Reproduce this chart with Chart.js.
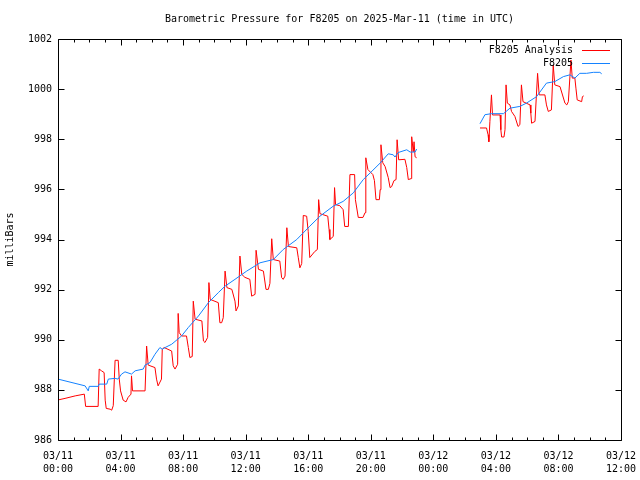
<!DOCTYPE html>
<html>
<head>
<meta charset="utf-8">
<script src="https://cdn.jsdelivr.net/npm/chart.js@4"></script>
<style>
  body { margin: 0; background: #fff; }
</style>
</head>
<body>
<canvas id="chart" width="640" height="480"></canvas>
<script>
// time is in minutes after 03/11 00:00 UTC, pressure in millibars
// a null value marks the gap in the record
const analysisMinutes = [
  1, 27, 66, 101, 106, 154, 158, 167, 177, 181, 185, 200, 206, 212, 219, 231, 235, 240, 250, 261,
  269, 280, 282, 286, 334, 340, 346, 372, 378, 384, 397, 400, 407, 436, 442, 449, 459, 461, 465, 474,
  493, 500, 506, 515, 519, 526, 552, 558, 564, 574, 579, 584, 615, 621, 628, 634, 641, 648, 667, 679,
  683, 692, 698, 705, 717, 736, 743, 756, 760, 769, 788, 798, 807, 813, 820, 826, 851, 858, 864, 871,
  878, 884, 916, 922, 928, 935, 941, 954, 960, 966, 985, 995, 1000, 1005, 1035, 1040, 1043, 1056, 1061, 1065,
  1081, 1094, 1100, 1114, 1120, 1138, 1141, 1152, 1170, 1178, 1181, 1189, 1208, 1214, 1220, 1233, 1236, 1239, 1246, 1255,
  1267, 1274, 1280, 1289, 1297, 1301, 1307, 1331, 1338, 1344, 1355, 1357, 1363, 1366, 1370, 1376,
  1500,
  1619, 1644, 1650, 1653, 1657, 1663, 1667, 1696, 1699, 1702, 1711, 1715, 1719, 1724, 1734, 1740, 1753, 1765, 1772, 1778,
  1784, 1811, 1814, 1817, 1830, 1840, 1846, 1868, 1874, 1881, 1893, 1900, 1906, 1926, 1945, 1952, 1958, 1968, 1973, 1983,
  1987, 1992, 2009, 2012, 2017
];
const analysisValues = [
  987.60, 987.66, 987.76, 987.83, 987.34, 987.34, 988.83, 988.76, 988.69, 987.59, 987.26, 987.23, 987.19, 987.37, 989.18, 989.18, 988.43, 987.96, 987.59, 987.52,
  987.70, 987.83, 988.56, 987.96, 987.96, 989.75, 988.99, 988.89, 988.43, 988.16, 988.43, 989.62, 989.69, 989.55, 988.96, 988.83, 989.02, 991.05, 990.29, 990.15,
  990.15, 989.69, 989.29, 989.33, 991.54, 990.82, 990.75, 989.95, 989.89, 990.09, 992.28, 991.61, 991.48, 990.68, 990.68, 990.88, 992.74, 992.08, 992.01, 991.54,
  991.15, 991.35, 993.34, 992.61, 992.49, 992.41, 991.74, 991.81, 993.57, 992.81, 992.74, 992.01, 992.01, 992.25, 994.03, 993.20, 993.14, 992.48, 992.41, 992.54,
  994.47, 993.72, 993.67, 993.27, 992.87, 993.04, 994.96, 994.93, 994.32, 993.28, 993.52, 993.60, 995.59, 995.03, 994.93, 994.40, 994.00, 994.12, 996.07, 995.39,
  995.35, 995.19, 994.52, 994.52, 996.59, 996.59, 995.59, 994.88, 994.88, 995.07, 997.26, 996.79, 996.59, 996.35, 995.59, 995.59, 995.99, 997.78, 997.06, 996.91,
  996.47, 996.07, 996.11, 996.35, 996.39, 997.98, 997.18, 997.20, 996.87, 996.39, 996.43, 998.10, 997.50, 997.90, 997.30, 997.26,
  null,
  998.45, 998.45, 998.18, 997.90, 998.70, 999.77, 998.97, 998.97, 998.38, 998.09, 998.09, 998.38, 1000.17, 999.44, 999.37, 999.11, 998.91, 998.51, 998.58, 1000.17,
  999.50, 999.37, 999.04, 998.64, 998.71, 1000.63, 999.77, 999.77, 999.37, 999.11, 999.17, 1000.96, 1000.17, 1000.10, 999.44, 999.37, 999.50, 1001.16, 1000.44, 1000.44,
  1000.04, 999.57, 999.50, 999.70, 999.73
];
const stationMinutes = [
  0, 104, 116, 120, 154, 158, 187, 193, 219, 230, 244, 257, 282, 296, 327, 334, 353, 372, 391, 400,
  411, 436, 474, 500, 539, 577, 615, 641, 679, 724, 775, 826, 864, 916, 966, 1005, 1056, 1094, 1133, 1171,
  1197, 1236, 1267, 1286, 1293, 1305, 1338, 1351, 1370, 1376,
  1500,
  1619, 1638, 1663, 1709, 1734, 1772, 1797, 1836, 1874, 1906, 1939, 1964, 1983, 2002, 2028, 2054, 2079, 2086
];
const stationValues = [
  988.43, 988.16, 987.96, 988.14, 988.14, 988.23, 988.23, 988.43, 988.46, 988.43, 988.63, 988.72, 988.63, 988.76, 988.83, 988.99, 989.09, 989.42, 989.69, 989.62,
  989.69, 989.82, 990.15, 990.49, 990.95, 991.48, 991.88, 992.14, 992.41, 992.74, 993.07, 993.20, 993.60, 994.00, 994.53, 994.93, 995.33, 995.52, 995.86, 996.39,
  996.65, 997.05, 997.42, 997.38, 997.29, 997.47, 997.58, 997.49, 997.49, 997.61,
  null,
  998.62, 998.98, 999.02, 999.02, 999.24, 999.31, 999.44, 999.70, 1000.24, 1000.30, 1000.50, 1000.57, 1000.44, 1000.63, 1000.63, 1000.67, 1000.67, 1000.61
];

const xTickLabels = [
  ['03/11', '00:00'], ['03/11', '04:00'], ['03/11', '08:00'], ['03/11', '12:00'], ['03/11', '16:00'],
  ['03/11', '20:00'], ['03/12', '00:00'], ['03/12', '04:00'], ['03/12', '08:00'], ['03/12', '12:00']
];

const FONT = 'DejaVu Sans Mono';

function toPoints(xs, ys) {
  return xs.map((x, i) => ({ x: x, y: ys[i] }));
}

// gnuplot style box with ticks pointing inwards
const frameTicks = {
  id: 'frameTicks',
  afterDatasetsDraw(chart) {
    const { ctx, chartArea: a, scales: { x, y } } = chart;
    const L = Math.round(a.left) + 0.5, R = Math.round(a.right) + 0.5;
    const T = Math.round(a.top) + 0.5, B = Math.round(a.bottom) + 0.5;
    ctx.save();
    ctx.strokeStyle = '#000';
    ctx.lineWidth = 1;
    ctx.beginPath();
    for (let m = 0; m <= 2160; m += 60) {
      const px = Math.round(x.getPixelForValue(m)) + 0.5;
      const len = m % 240 === 0 ? 6 : 3;
      ctx.moveTo(px, B); ctx.lineTo(px, B - len);
      ctx.moveTo(px, T); ctx.lineTo(px, T + len);
    }
    for (let v = 986; v <= 1002; v += 2) {
      const py = Math.round(y.getPixelForValue(v)) + 0.5;
      ctx.moveTo(L, py); ctx.lineTo(L + 6, py);
      ctx.moveTo(R, py); ctx.lineTo(R - 6, py);
    }
    ctx.rect(L, T, R - L, B - T);
    ctx.stroke();
    ctx.restore();
  }
};

// key in the top right corner: text first, line sample after it
const insideKey = {
  id: 'insideKey',
  afterDraw(chart) {
    const { ctx, chartArea: a } = chart;
    ctx.save();
    ctx.font = '10px "' + FONT + '"';
    ctx.textAlign = 'right';
    ctx.textBaseline = 'middle';
    ctx.fillStyle = '#000';
    chart.data.datasets.forEach((ds, i) => {
      const yy = Math.round(a.top) + 11 + i * 13;
      ctx.fillText(ds.label, a.right - 48, yy);
      ctx.strokeStyle = ds.borderColor;
      ctx.lineWidth = 1;
      ctx.beginPath();
      ctx.moveTo(a.right - 39, yy + 0.5);
      ctx.lineTo(a.right - 11, yy + 0.5);
      ctx.stroke();
    });
    ctx.restore();
  }
};

new Chart(document.getElementById('chart').getContext('2d'), {
  type: 'line',
  data: {
    datasets: [{
      label: 'F8205 Analysis',
      data: toPoints(analysisMinutes, analysisValues),
      borderColor: '#ff0000',
      borderWidth: 1,
      pointRadius: 0,
      tension: 0,
      spanGaps: false,
      order: 1
    }, {
      label: 'F8205',
      data: toPoints(stationMinutes, stationValues),
      borderColor: 'rgb(20,130,255)',
      borderWidth: 1,
      pointRadius: 0,
      tension: 0,
      spanGaps: false,
      order: 0
    }]
  },
  options: {
    responsive: false,
    animation: false,
    layout: { padding: { top: 0, right: 19, left: 0, bottom: 0 } },
    plugins: {
      legend: { display: false },
      tooltip: { enabled: false },
      title: {
        display: true,
        text: 'Barometric Pressure for F8205 on 2025-Mar-11 (time in UTC)',
        color: '#000',
        fullSize: false,
        font: { family: FONT, size: 10, weight: 'normal', lineHeight: 1.2 },
        padding: { top: 13, bottom: 14 }
      }
    },
    scales: {
      x: {
        type: 'linear',
        min: 0,
        max: 2160,
        grid: { display: false, drawTicks: false },
        border: { display: false },
        ticks: {
          stepSize: 240,
          autoSkip: false,
          maxRotation: 0,
          padding: 10,
          color: '#000',
          font: { family: FONT, size: 10, lineHeight: 1.3 },
          callback: v => xTickLabels[Math.round(v / 240)]
        },
        afterFit: s => { s.height = 40; s.paddingLeft = 0; s.paddingRight = 0; }
      },
      y: {
        min: 986,
        max: 1002,
        grid: { display: false, drawTicks: false },
        border: { display: false },
        ticks: {
          stepSize: 2,
          padding: 6,
          color: '#000',
          font: { family: FONT, size: 10 },
          callback: v => String(v)
        },
        title: {
          display: true,
          text: 'milliBars',
          color: '#000',
          font: { family: FONT, size: 10, lineHeight: 1.2 },
          padding: { top: 4, bottom: 4 }
        },
        afterFit: s => { s.width = 58; }
      }
    }
  },
  plugins: [frameTicks, insideKey]
});
</script>
</body>
</html>
